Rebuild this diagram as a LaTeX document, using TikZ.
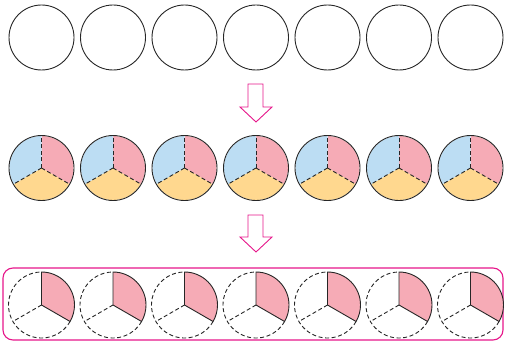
\documentclass[tikz,border=0pt]{standalone}
\usetikzlibrary{positioning}

\definecolor{piepink}{HTML}{F6ABB6}
\definecolor{pieblue}{HTML}{BCDDF3}
\definecolor{pieyellow}{HTML}{FFD88F}
\definecolor{markpink}{HTML}{E6168A}

\begin{document}
\begin{tikzpicture}[
  x=1pt, y=-1pt,
  disc/.style = {circle, draw=black!85, line width=0.9pt, minimum size=65pt, inner sep=0pt},
  ghost/.style = {circle, minimum size=66pt, inner sep=0pt},
  rim/.style = {draw=black!85, line width=0.9pt},
  cut/.style = {draw=black!85, line width=0.9pt, dash pattern=on 4pt off 2.6pt},
  hollow/.style = {draw=markpink, line width=0.9pt, fill=white, line join=miter}
]
\useasboundingbox (0,0) rectangle (505,342);

% Row 1: whole circles
\foreach \i in {1,...,7}
  \node[disc] (top\i) at ({41.5+71.5*(\i-1)},37.5) {};

% Arrow down
\coordinate (tipA) at (256,122);
\draw[hollow] (tipA) -- ++(16,-15) -- ++(-9,0) -- ++(0,-23) -- ++(-15,0)
  -- ++(0,23) -- ++(-8,0) -- cycle;

% Row 2: each circle cut in three
\foreach \i in {1,...,7}{
  \coordinate (c\i) at ({41.5+71.5*(\i-1)},168);
  \fill[piepink] (c\i) -- ++(90:32pt) arc[start angle=90, end angle=-30, radius=32pt] -- cycle;
  \fill[pieyellow] (c\i) -- ++(-30:32pt) arc[start angle=-30, end angle=-150, radius=32pt] -- cycle;
  \fill[pieblue] (c\i) -- ++(210:32pt) arc[start angle=210, end angle=90, radius=32pt] -- cycle;
  \draw[cut] (c\i) -- ++(90:32pt);
  \draw[cut] (c\i) -- ++(-30:32pt);
  \draw[cut] (c\i) -- ++(210:32pt);
  \node[disc] (mid\i) at (c\i) {};
}

% Arrow down
\coordinate (tipB) at (256,252);
\draw[hollow] (tipB) -- ++(16,-15) -- ++(-9,0) -- ++(0,-22) -- ++(-15,0)
  -- ++(0,22) -- ++(-8,0) -- cycle;

% Frame around the last row
\node[draw=markpink, line width=1.1pt, rounded corners=10pt, minimum width=500pt,
  minimum height=72pt, inner sep=0pt] (frame) at (253,304) {};

% Row 3: one third kept of each circle
\foreach \i in {1,...,7}{
  \node[ghost] (bot\i) at ({41.5+71.5*(\i-1)},305) {};
  \filldraw[fill=piepink, rim, line join=round] (bot\i.center) -- ++(90:33pt)
    arc[start angle=90, end angle=-30, radius=33pt] -- cycle;
  \draw[cut] (bot\i.center) ++(-30:33pt) arc[start angle=-30, end angle=-270, radius=33pt];
  \draw[cut] (bot\i.center) -- ++(210:33pt);
}
\end{tikzpicture}
\end{document}
